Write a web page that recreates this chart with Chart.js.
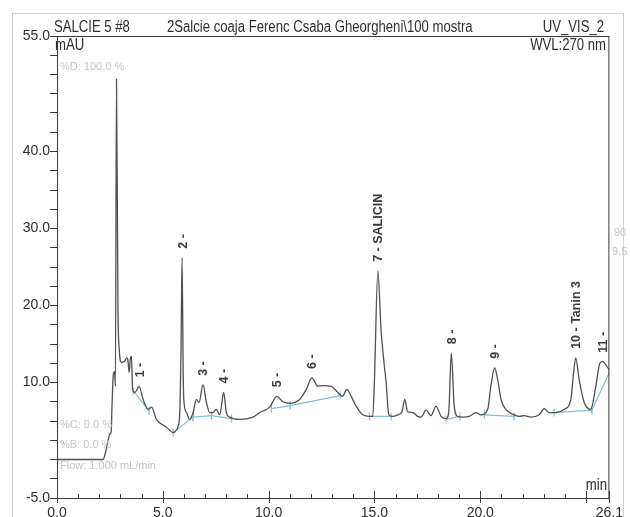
<!DOCTYPE html>
<html>
<head>
<meta charset="utf-8">
<script src="https://cdn.jsdelivr.net/npm/chart.js@4.4.1/dist/chart.umd.min.js"></script>
<style>
  html, body { margin: 0; padding: 0; background: #fff; }
  #wrap { position: relative; width: 630px; height: 517px; overflow: hidden; }
  #edge { position: absolute; left: 12px; top: 13px; width: 610px; height: 600px; border-left: 1px solid #c8c8c8; border-top: 1px solid #d4d4d4; border-right: 1px solid #d4d4d4; }
  canvas { position: absolute; left: 0; top: 0; }
</style>
</head>
<body>
<div id="wrap">
  <div id="edge"></div>
  <canvas id="c" width="630" height="517"></canvas>
</div>
<script>
// ---- data ----
const times = [0.0, 2.17, 2.3, 2.4, 2.5, 2.56, 2.6, 2.66, 2.72, 2.76, 2.81, 2.88, 2.94, 3.05, 3.2, 3.29, 3.35, 3.41, 3.47, 3.52, 3.57, 3.68, 3.88, 4.07, 4.31, 4.47, 4.70, 5.17, 5.49, 5.72, 5.80, 5.86, 5.91, 5.96, 5.99, 6.12, 6.27, 6.43, 6.59, 6.71, 6.90, 7.06, 7.22, 7.37, 7.53, 7.69, 7.88, 8.0, 8.16, 8.63, 9.25, 9.58, 10.05, 10.39, 10.67, 10.99, 11.46, 11.78, 12.04, 12.33, 12.56, 12.96, 13.27, 13.48, 13.70, 13.90, 14.14, 14.45, 14.76, 14.92, 15.0, 15.16, 15.31, 15.42, 15.55, 15.68, 15.86, 16.1, 16.3, 16.43, 16.57, 16.81, 17.04, 17.2, 17.44, 17.67, 17.91, 18.15, 18.38, 18.51, 18.63, 18.77, 18.93, 19.17, 19.48, 19.8, 20.03, 20.35, 20.50, 20.68, 20.82, 20.98, 21.21, 21.6, 21.84, 22.08, 22.39, 22.78, 23.02, 23.25, 23.57, 23.96, 24.28, 24.4, 24.51, 24.67, 24.91, 25.22, 25.46, 25.65, 25.77, 26.08];
const signal = [0.0, 0.0, 1.0, 2.3, 3.3, 3.6, 7.0, 11.0, 11.4, 9.5, 49.4, 20.0, 14.3, 12.6, 12.8, 13.2, 12.9, 11.3, 13.2, 13.4, 9.1, 8.7, 9.5, 7.8, 6.5, 6.8, 5.2, 4.2, 3.5, 4.3, 6.1, 14.0, 26.2, 12.0, 7.8, 6.1, 5.2, 6.1, 7.8, 7.4, 9.7, 7.4, 6.1, 6.1, 6.5, 5.8, 8.7, 6.1, 5.5, 5.2, 5.5, 6.1, 6.8, 8.2, 7.5, 7.3, 7.8, 9.1, 10.6, 9.5, 9.6, 9.5, 8.7, 8.2, 9.1, 8.2, 6.9, 5.8, 5.6, 5.6, 10.4, 24.5, 16.9, 13.4, 10.0, 5.8, 5.6, 5.8, 6.2, 7.8, 6.2, 6.1, 5.6, 5.5, 6.4, 5.7, 6.9, 5.6, 5.3, 6.1, 13.8, 6.9, 5.6, 5.5, 5.6, 6.1, 5.8, 6.5, 9.5, 11.9, 10.4, 7.8, 6.5, 5.8, 5.6, 5.7, 5.5, 5.8, 6.6, 6.1, 6.1, 6.5, 7.8, 11.0, 13.2, 10.4, 7.4, 6.5, 9.5, 12.5, 12.7, 11.7];

const peakTimes  = [3.88, 5.91, 6.90, 7.88, 10.39, 12.04, 15.16, 18.63, 20.68, 24.51, 25.77];
const peakValues = [9.5, 26.2, 9.7, 8.7, 8.2, 10.6, 24.5, 13.8, 11.9, 13.2, 12.7];
const peakLabels = ["1 -", "2 -", "3 -", "4 -", "5 -", "6 -", "7 - SALICIN", "8 -", "9 -", "10 - Tanin 3", "11 -"];

const baseStartT = [3.6, 5.49, 6.43, 7.3, 10.13, 11.02, 14.76, 18.38, 20.19, 23.49, 25.27];
const baseStartV = [8.9, 3.5, 5.5, 5.7, 6.6, 7.0, 5.6, 5.2, 5.8, 6.1, 6.4];
const baseEndT   = [4.35, 6.43, 7.3, 8.25, 11.02, 13.38, 15.79, 19.04, 21.6, 25.27, 26.1];
const baseEndV   = [6.3, 5.5, 5.7, 5.3, 7.0, 8.3, 5.6, 5.6, 5.6, 6.4, 11.3];

const xLabelValues = [0, 5, 10, 15, 20, 26.1];
const xMinorTicks  = [0,1,2,3,4,5,6,7,8,9,10,11,12,13,14,15,16,17,18,19,20,21,22,23,24,25,26.1];
const yLabelValues = [-5, 10, 20, 30, 40, 55];
const yTickValues  = [-5,-2.5,0,2.5,5,7.5,10,12.5,15,17.5,20,22.5,25,27.5,30,32.5,35,37.5,40,42.5,45,47.5,50,52.5,55];

// ---- build datasets ----
const trace = times.map((t, i) => ({ x: t, y: signal[i] }));
const baseLines = [];
const baseMarks = [];
for (let i = 0; i < baseStartT.length; i++) {
  baseLines.push({ x: baseStartT[i], y: baseStartV[i] }, { x: baseEndT[i], y: baseEndV[i] }, { x: baseEndT[i], y: null });
  baseMarks.push({ x: baseStartT[i], y: baseStartV[i] }, { x: baseEndT[i], y: baseEndV[i] });
}

const FONT = "'Liberation Sans', Arial, sans-serif";

function narrowText(ctx, text, x, y, align) {
  // tall, condensed lettering like the instrument printout
  ctx.save();
  ctx.translate(x, y);
  ctx.scale(0.82, 1);
  ctx.textAlign = align;
  ctx.fillText(text, 0, 0);
  ctx.restore();
}

const decor = {
  id: 'decor',
  afterDraw(chart) {
    const ctx = chart.ctx, a = chart.chartArea, xs = chart.scales.x, ys = chart.scales.y;
    ctx.save();
    // frame
    ctx.strokeStyle = '#3a3a3a';
    ctx.lineWidth = 1;
    ctx.strokeRect(a.left + 0.5, a.top + 0.5, a.right - a.left - 1, a.bottom - a.top);
    // x tick marks (inside, majors cross the axis)
    ctx.beginPath();
    xMinorTicks.forEach(v => {
      const px = Math.round(xs.getPixelForValue(v)) + 0.5;
      const major = (Math.abs(v % 5) < 1e-9) || v === 26.1;
      ctx.moveTo(px, a.bottom - (major ? 7 : 4));
      ctx.lineTo(px, a.bottom + (major ? 5 : 0));
    });
    ctx.stroke();
    // peak labels
    ctx.fillStyle = '#3a3a3a';
    ctx.font = 'bold 12.5px ' + FONT;
    ctx.textAlign = 'left';
    ctx.textBaseline = 'middle';
    peakLabels.forEach((lab, i) => {
      const px = xs.getPixelForValue(peakTimes[i]) + 1;
      const py = ys.getPixelForValue(peakValues[i]) - 9;
      ctx.save();
      ctx.translate(px, py);
      ctx.rotate(-Math.PI / 2);
      ctx.fillText(lab, 0, 0);
      ctx.restore();
    });
    // header texts
    ctx.fillStyle = '#2f2f2f';
    ctx.font = '16px ' + FONT;
    ctx.textBaseline = 'alphabetic';
    narrowText(ctx, 'SALCIE 5 #8', 54, 32, 'left');
    narrowText(ctx, '2Salcie coaja Ferenc Csaba Gheorgheni\\100 mostra', 167, 32, 'left');
    narrowText(ctx, 'UV_VIS_2', 604, 32, 'right');
    narrowText(ctx, 'mAU', 55, 50, 'left');
    narrowText(ctx, 'WVL:270 nm', 606, 50, 'right');
    narrowText(ctx, 'min', 607, 490, 'right');
    // faint method annotations
    ctx.fillStyle = '#c4c4c4';
    ctx.font = '11px ' + FONT;
    ctx.textAlign = 'left';
    ctx.textBaseline = 'middle';
    ctx.fillText('%D: 100.0 %', 60, 67);
    ctx.fillText('%C: 0.0 %', 60, 425);
    ctx.fillText('%B: 0.0 %', 60, 445);
    ctx.fillText('Flow: 1.000 mL/min', 60, 466);
    ctx.fillText('90', 614, 233);
    ctx.fillText('9.5', 612, 252);
    ctx.restore();
  }
};

new Chart(document.getElementById('c'), {
  type: 'line',
  data: {
    datasets: [
      {
        label: 'baseline',
        data: baseLines,
        borderColor: '#86bfd0',
        borderWidth: 1.2,
        pointRadius: 0,
        spanGaps: false,
        tension: 0,
        order: 2
      },
      {
        type: 'scatter',
        label: 'marks',
        data: baseMarks,
        pointStyle: 'line',
        rotation: 90,
        radius: 4,
        borderColor: '#86bfd0',
        borderWidth: 1.2,
        order: 3
      },
      {
        label: 'UV_VIS_2',
        data: trace,
        borderColor: '#505050',
        borderWidth: 1.3,
        pointRadius: 0,
        cubicInterpolationMode: 'monotone',
        order: 1
      }
    ]
  },
  options: {
    responsive: false,
    animation: false,
    events: [],
    layout: { padding: { left: 0, top: 36, right: 20, bottom: 0 } },
    plugins: { legend: { display: false }, tooltip: { enabled: false } },
    scales: {
      x: {
        type: 'linear',
        min: 0,
        max: 26.1,
        afterBuildTicks: s => { s.ticks = xLabelValues.map(v => ({ value: v })); },
        afterFit: s => { s.height = 19; },
        grid: { display: true, drawOnChartArea: false, drawTicks: false },
        border: { display: true, color: '#3a3a3a' },
        ticks: {
          autoSkip: false,
          maxRotation: 0,
          padding: 7,
          color: '#2f2f2f',
          font: { family: FONT, size: 14 },
          callback: v => Number(v).toFixed(1)
        }
      },
      y: {
        type: 'linear',
        min: -5,
        max: 55,
        afterBuildTicks: s => { s.ticks = yTickValues.map(v => ({ value: v })); },
        afterFit: s => { s.width = 57; },
        grid: { display: true, drawOnChartArea: false, drawTicks: true, tickLength: 7, tickColor: '#3a3a3a' },
        border: { display: true, color: '#3a3a3a' },
        ticks: {
          autoSkip: false,
          padding: 0,
          color: '#2f2f2f',
          font: { family: FONT, size: 14 },
          callback: v => yLabelValues.includes(v) ? Number(v).toFixed(1) : ''
        }
      }
    }
  },
  plugins: [decor]
});
</script>
</body>
</html>
